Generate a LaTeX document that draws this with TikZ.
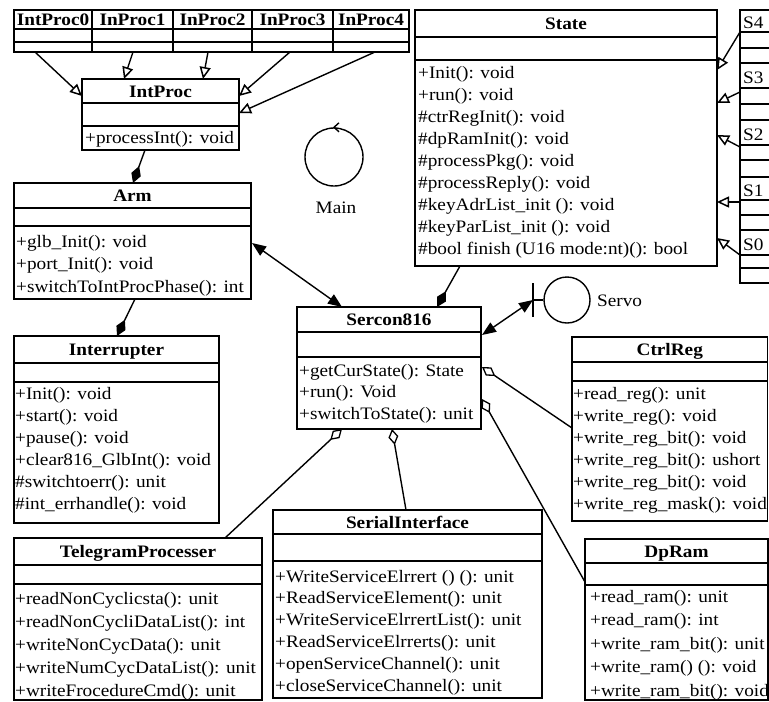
\documentclass[tikz,border=0pt]{standalone}
\usepackage{fontspec}
\setmainfont[FakeStretch=1.1]{Liberation Serif}
\usetikzlibrary{arrows.meta,calc}
\tikzset{
 boxframe/.style={draw, line width=1.7pt, inner sep=0pt, outer sep=0pt, rectangle},
 sepline/.style={line width=1.7pt},
 titletext/.style={font=\fontsize{17.5}{20}\selectfont\bfseries, inner sep=0pt, text height=12pt, text depth=0pt},
 stitle/.style={font=\fontsize{17.5}{20}\selectfont, inner sep=0pt, anchor=base west},
 optext/.style={font=\fontsize{17.5}{20}\selectfont, inner sep=0pt, anchor=base west},
 conn/.style={line width=1.4pt},
 gen/.style={conn, -{Triangle[open, length=12pt, width=11pt, line width=1.5pt]}},
 comp/.style={conn, -{Diamond[length=18pt, width=10pt]}},
 agg/.style={conn, -{Diamond[open, length=16pt, width=10pt, line width=1.3pt]}},
 nav/.style={conn, {Triangle[length=14pt,width=11pt]}-{Triangle[length=14pt,width=11pt]}},
 ring/.style={draw, circle, line width=1.4pt, inner sep=0pt},
 lbl/.style={font=\fontsize{17.5}{20}\selectfont, inner sep=0pt},
}
\newcommand\umlbox[8]{%
  \node[boxframe, minimum width={(#3-#2)*1pt}, minimum height={(#7-#4)*1pt}, anchor=north west] (#1) at (#2,#4) {};
  \draw[sepline] (#2,#5) -- (#3,#5) (#2,#6) -- (#3,#6);
  \node[titletext] (#1-title) at ({(#2+#3)/2},{(#4+#5)/2}) {#8};}
\newcommand\umlops[5]{%
  \foreach \t [count=\i from 0] in {#5}{\node[optext] (#1-op\i) at ({#2},{#3+\i*#4}) {\t};}}
\begin{document}
\begin{tikzpicture}[x=1pt,y=-1pt]
\useasboundingbox (0,0) rectangle (769,702);
\clip (0,0) rectangle (769,702);
% top row
\umlbox{ip0}{14}{92}{10}{29}{42}{52}{IntProc0}
\umlbox{ip1}{92}{173}{10}{29}{42}{52}{InProc1}
\umlbox{ip2}{173}{252}{10}{29}{42}{52}{InProc2}
\umlbox{ip3}{252}{333}{10}{29}{42}{52}{InProc3}
\umlbox{ip4}{333}{409}{10}{29}{42}{52}{InProc4}
% IntProc
\umlbox{intproc}{82}{239}{79}{103}{126}{150}{IntProc}
\umlops{intproc}{85}{143}{22}{+processInt(): void}
% State
\umlbox{state}{415}{717}{10}{37}{60}{266}{State}
\umlops{state}{418}{78}{22}{+Init(): void,+run(): void,\#ctrRegInit(): void,\#dpRamInit(): void,\#processPkg(): void,\#processReply(): void,\#keyAdrList\_init (): void,\#keyParList\_init (): void,\#bool finish (U16 mode:nt)(): bool}
% S boxes
\umlbox{s4}{740}{790}{10}{32}{48}{63}{}
\umlbox{s3}{740}{790}{63}{88}{104}{120}{}
\umlbox{s2}{740}{790}{120}{145}{160}{177}{}
\umlbox{s1}{740}{790}{177}{200}{215}{230}{}
\umlbox{s0}{740}{790}{230}{255}{268}{283}{}
\node[stitle] (s4-name) at (743,28) {S4};
\node[stitle] (s3-name) at (743,83) {S3};
\node[stitle] (s2-name) at (743,140) {S2};
\node[stitle] (s1-name) at (743,196) {S1};
\node[stitle] (s0-name) at (743,250) {S0};
% Arm
\umlbox{arm}{14}{251}{183}{208}{226}{299}{Arm}
\umlops{arm}{16}{247}{22.5}{+glb\_Init(): void,+port\_Init(): void,+switchToIntProcPhase(): int}
% Interrupter
\umlbox{intr}{14}{219}{336}{363}{382}{523}{Interrupter}
\umlops{intr}{15}{399}{22}{+Init(): void,+start(): void,+pause(): void,+clear816\_GlbInt(): void,\#switchtoerr(): unit,\#int\_errhandle(): void}
% Sercon816
\umlbox{sercon}{297}{481}{307}{332}{357}{429}{Sercon816}
\umlops{sercon}{299}{376}{21.5}{+getCurState(): State,+run(): Void,+switchToState(): unit}
% CtrlReg
\umlbox{ctrlreg}{572}{767.5}{337}{362}{381}{521}{CtrlReg}
\umlops{ctrlreg}{573}{399}{22}{+read\_reg(): unit,+write\_reg(): void,+write\_reg\_bit(): void,+write\_reg\_bit(): ushort,+write\_reg\_bit(): void,+write\_reg\_mask(): void}
% TelegramProcesser
\umlbox{tele}{14}{262}{538}{565}{584}{700}{TelegramProcesser}
\umlops{tele}{15}{604}{23}{+readNonCyclicsta(): unit,+readNonCycliDataList(): int,+writeNonCycData(): unit,+writeNumCycDataList(): unit,+writeFrocedureCmd(): unit}
% SerialInterface
\umlbox{serial}{273}{542}{510}{534}{561}{698}{SerialInterface}
\umlops{serial}{275}{582}{21.8}{+WriteServiceElrrert () (): unit,+ReadServiceElement(): unit,+WriteServiceElrrertList(): unit,+ReadServiceElrrerts(): unit,+openServiceChannel(): unit,+closeServiceChannel(): unit}
% DpRam
\umlbox{dpram}{585}{768}{539}{563}{585}{700}{DpRam}
\umlops{dpram}{590}{602}{23.5}{+read\_ram(): unit,+read\_ram(): int,+write\_ram\_bit(): unit,+write\_ram() (): void,+write\_ram\_bit(): void}
% Main
\node[ring, minimum size=58pt] (main) at (334,157) {};
\draw[conn] ($(main.north)+(5,-4.5)$) -- ($(main.north)+(0,0)$) -- ($(main.north)+(5,4.5)$);
\node[lbl] (mainlabel) at (336,208) {Main};
% Servo
\node[ring, minimum size=46pt] (servo) at (567,300) {};
\coordinate (servobar) at (533,300);
\draw[conn] (servobar) -- (servo.west);
\draw[conn] ($(servobar)+(0,-17)$) -- ($(servobar)+(0,17)$);
\node[lbl, anchor=west] (servolabel) at (597,301) {Servo};
% generalisations to IntProc
\draw[gen] ($(ip0.south west)+(21,0)$) -- ($(intproc.north west)+(0,17)$);
\draw[gen] ($(ip1.south west)+(41,0)$) -- ($(intproc.north west)+(42,0)$);
\draw[gen] ($(ip2.south west)+(35,0)$) -- ($(intproc.north west)+(121,0)$);
\draw[gen] ($(ip3.south west)+(38,0)$) -- ($(intproc.north east)+(0,17)$);
\draw[gen] ($(ip4.south west)+(42,0)$) -- ($(intproc.north east)+(0,34)$);
% generalisations to State
\draw[gen] ($(s4.north west)+(0,22)$) -- ($(state.north east)+(0,60)$);
\draw[gen] ($(s3.north west)+(0,29)$) -- ($(state.north east)+(0,93)$);
\draw[gen] ($(s2.north west)+(0,27)$) -- ($(state.north east)+(0,125)$);
\draw[gen] ($(s1.north west)+(0,25)$) -- ($(state.north east)+(0,192)$);
\draw[gen] ($(s0.north west)+(0,25)$) -- ($(state.north east)+(0,228)$);
% compositions
\draw[comp] ($(intproc.south west)+(63,0)$) -- ($(arm.north west)+(119,0)$);
\draw[comp] ($(arm.south west)+(121,0)$) -- ($(intr.north west)+(103,0)$);
\draw[comp] ($(state.south west)+(45,0)$) -- ($(sercon.north west)+(140,0)$);
% navigable associations
\draw[nav] ($(arm.north east)+(1,60)$) -- ($(sercon.north west)+(45,0)$);
\draw[nav] ($(sercon.north east)+(1,28)$) -- (servobar);
% aggregations
\draw[agg] ($(ctrlreg.north west)+(0,91)$) -- ($(sercon.north east)+(1,60)$);
\draw[agg] ($(dpram.north west)+(0,43)$) -- ($(sercon.north east)+(1,92)$);
\draw[agg] ($(serial.north west)+(133,0)$) -- ($(sercon.south west)+(95,0)$);
\draw[agg] ($(tele.north west)+(211,0)$) -- ($(sercon.south west)+(45,0)$);
\end{tikzpicture}
\end{document}
